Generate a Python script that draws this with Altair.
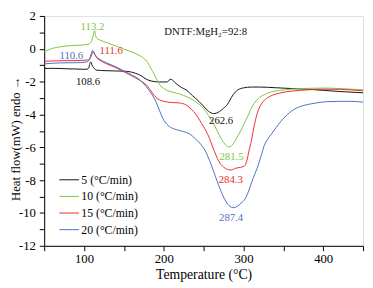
import altair as alt
import pandas as pd

series_names = ["5 (°C/min)", "10 (°C/min)", "15 (°C/min)", "20 (°C/min)"]
series_colors = ["#111111", "#7dc543", "#ee2a2a", "#4a70c2"]

x5 = [50, 60, 70, 80, 90, 100, 104, 106, 107, 108.6, 110, 112, 116, 125, 140, 155, 165, 172, 178, 185, 195, 203, 206, 208,
      210, 215, 222, 228, 236, 244, 250, 256, 262.6, 266, 270, 275, 280, 285, 290, 295, 300, 310, 320, 340, 360, 380, 400,
      420, 450]
y5 = [-1.2, -1.19, -1.2, -1.22, -1.23, -1.25, -1.24, -1.15, -0.95, -0.8, -1.0, -1.15, -1.3, -1.33, -1.35, -1.38, -1.5,
      -1.65, -1.85, -1.97, -2.02, -2.02, -1.97, -1.85, -1.88, -2.1, -2.35, -2.5, -2.85, -3.2, -3.5, -3.8, -3.95, -3.92, -3.82,
      -3.62, -3.38, -2.95, -2.62, -2.45, -2.38, -2.33, -2.33, -2.37, -2.42, -2.46, -2.53, -2.6, -2.68]

x10 = [50, 55, 60, 70, 80, 90, 100, 105, 108, 110, 112, 113.2, 114.5, 117, 120, 130, 140, 150, 160, 170, 176, 180, 184,
       188, 192, 196, 200, 205, 212, 220, 230, 240, 250, 258, 264, 270, 275, 279, 281.5, 285, 289, 293, 297, 301, 305, 309,
       313, 318, 326, 334, 345, 360, 380, 400, 420, 450]
y10 = [-0.17, -0.08, 0.02, 0.12, 0.18, 0.21, 0.24, 0.28, 0.35, 0.55, 0.9, 1.1, 0.8, 0.6, 0.53, 0.35, 0.17, -0.02, -0.2,
       -0.42, -0.62, -0.85, -1.2, -1.55, -1.95, -2.25, -2.42, -2.55, -2.65, -2.75, -2.95, -3.22, -3.65, -4.2, -4.7, -5.3,
       -5.7, -5.92, -5.98, -5.9, -5.65, -5.3, -4.95, -4.55, -4.15, -3.7, -3.35, -3.05, -2.8, -2.64, -2.54, -2.46, -2.41,
       -2.39, -2.42, -2.5]

x15 = [50, 60, 70, 80, 90, 100, 105, 108, 110, 111.6, 113, 116, 120, 130, 140, 150, 160, 170, 178, 186, 190, 195, 200, 210,
       220, 228, 235, 240, 245, 250, 256, 262, 269, 275, 280, 284.3, 290, 296, 301, 304, 307, 310, 313, 316, 319, 322, 327,
       334, 345, 360, 380, 400, 420, 450]
y15 = [-0.76, -0.74, -0.73, -0.72, -0.72, -0.7, -0.68, -0.55, -0.3, -0.15, -0.3, -0.55, -0.7, -0.95, -1.15, -1.4, -1.65,
       -1.92, -2.2, -2.7, -2.95, -3.12, -3.2, -3.27, -3.3, -3.42, -3.7, -3.97, -4.35, -4.75, -5.3, -6.05, -6.85, -7.2, -7.35,
       -7.38, -7.28, -7.22, -7.15, -6.85, -6.2, -5.6, -4.8, -4.15, -3.7, -3.4, -3.1, -2.88, -2.7, -2.58, -2.5, -2.46, -2.47,
       -2.56]

x20 = [50, 60, 70, 80, 90, 100, 105, 107, 109, 110.6, 112, 115, 120, 128, 140, 150, 160, 170, 178, 184, 190, 195, 199, 204,
       210, 218, 225, 232, 240, 247, 253, 259, 265, 272, 278, 283, 287.4, 292, 297, 302, 307, 312, 317, 322, 326, 332, 338,
       344, 350, 358, 367, 380, 391, 405, 421, 435, 450]
y20 = [-0.92, -0.88, -0.86, -0.85, -0.85, -0.82, -0.78, -0.6, -0.3, -0.1, -0.2, -0.45, -0.65, -0.85, -1.1, -1.35, -1.6,
       -1.9, -2.3, -2.7, -3.2, -3.8, -4.25, -4.6, -4.82, -4.95, -5.05, -5.17, -5.5, -5.85, -6.3, -7.0, -7.8, -8.7, -9.3,
       -9.6, -9.68, -9.6, -9.4, -9.15, -8.6, -7.9, -7.3, -6.55, -5.9, -5.4, -5.0, -4.6, -4.25, -3.88, -3.6, -3.4, -3.3,
       -3.22, -3.2, -3.2, -3.25]

ann_text = ["113.2", "110.6", "111.6", "108.6", "262.6", "281.5", "284.3", "287.4", "DNTF:MgH₂=92:8"]
ann_x = [110.5, 84, 134, 105, 272, 285, 284, 284.5, 252.6]
ann_y = [1.31, -0.43, -0.13, -2.0, -4.4, -6.6, -7.97, -10.3, 1.0]
ann_color = ["#7dc543", "#4a70c2", "#ee2a2a", "#111111", "#111111", "#7dc543", "#ee2a2a", "#4a70c2", "#111111"]

rows = []
for name, xs, ys in zip(series_names, [x5, x10, x15, x20], [y5, y10, y15, y20]):
    for i, (a, b) in enumerate(zip(xs, ys)):
        rows.append({"T": a, "H": b, "rate": name, "i": i})
df = pd.DataFrame(rows)
ann = pd.DataFrame({"t": ann_text, "x": ann_x, "y": ann_y, "c": ann_color})

FONT = "Liberation Serif"

xscale = alt.Scale(domain=[50, 450], nice=False, zero=False)
yscale = alt.Scale(domain=[-12, 2], nice=False, zero=False)

xaxis = alt.Axis(title="Temperature (°C)", values=list(range(50, 451, 50)),
                 labelExpr="datum.value % 100 == 0 ? toString(datum.value) : ''",
                 grid=False, tickSize=5, labelPadding=2, titlePadding=2,
                 labelFontSize=13, titleFontSize=14, labelFont=FONT, titleFont=FONT,
                 titleFontWeight="normal", labelColor="#000", titleColor="#000",
                 domainColor="#000", tickColor="#000", labelFlush=False, labelOverlap=False)
yaxis = alt.Axis(title="Heat flow(mW) endo →", values=list(range(-12, 3)),
                 labelExpr="datum.value % 2 == 0 ? toString(datum.value) : ''",
                 grid=False, tickSize=5, labelPadding=4,
                 labelFontSize=13, titleFontSize=13, labelFont=FONT, titleFont=FONT,
                 titleFontWeight="normal", labelColor="#000", titleColor="#000",
                 domainColor="#000", tickColor="#000", labelFlush=False, labelOverlap=False,
                 titleAngle=270, titleX=-29, titleY=125, titleAlign="center",
                 titleBaseline="middle")

lines = alt.Chart(df).mark_line(strokeWidth=1, interpolate="monotone").encode(
    x=alt.X("T:Q", scale=xscale, axis=xaxis),
    y=alt.Y("H:Q", scale=yscale, axis=yaxis),
    color=alt.Color("rate:N", scale=alt.Scale(domain=series_names, range=series_colors),
                    legend=alt.Legend(title=None, orient="none", legendX=15, legendY=157,
                                      symbolType="stroke", symbolSize=400, symbolStrokeWidth=1,
                                      rowPadding=-5.5, labelFont=FONT, labelFontSize=12,
                                      labelColor="#000", labelOffset=2, padding=0)),
    order="i:Q",
)

texts = alt.Chart(ann).mark_text(font=FONT, fontSize=11, align="center", baseline="middle").encode(
    x=alt.X("x:Q", scale=xscale, axis=xaxis),
    y=alt.Y("y:Q", scale=yscale, axis=yaxis),
    text="t:N",
    color=alt.Color("c:N", scale=None),
)

chart = alt.layer(lines, texts).properties(
    width=326, height=235,
    autosize=alt.AutoSizeParams(type="none"),
    padding={"left": 37, "top": 5, "right": 2, "bottom": 40},
).configure_view(stroke="#000", strokeWidth=1).configure(
    background="white", font=FONT
).configure_axis(
    labelFont=FONT, titleFont=FONT, labelFontWeight="normal", titleFontWeight="normal"
).configure_legend(labelFont=FONT)

chart.save("out.html", embed_options={"renderer": "svg", "actions": False})
